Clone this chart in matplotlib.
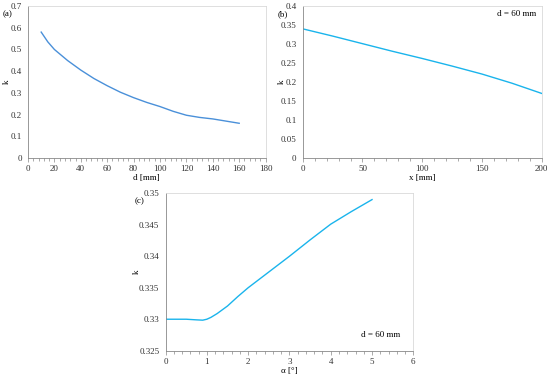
import numpy as np
import matplotlib.pyplot as plt
from matplotlib.ticker import MultipleLocator, AutoMinorLocator, FuncFormatter

plt.rcParams['font.family'] = ['Liberation Serif', 'DejaVu Serif']
plt.rcParams['font.size'] = 6.5

# (a) k vs d
d_mm = [10, 15, 20, 30, 40, 50, 60, 70, 80, 90, 100, 110, 120, 130, 140, 150, 160]
k_d = [0.58, 0.535, 0.50, 0.449, 0.405, 0.366, 0.333, 0.303, 0.278, 0.256, 0.237, 0.215, 0.197, 0.187, 0.180, 0.170, 0.160]

# (b) k vs x, d = 60 mm
x_mm = [0, 25, 50, 75, 100, 125, 150, 175, 200]
k_x = [0.340, 0.321, 0.301, 0.281, 0.262, 0.242, 0.221, 0.197, 0.170]

# (c) k vs alpha, d = 60 mm
alpha = [0, 0.5, 0.75, 0.9, 1.0, 1.1, 1.25, 1.5, 1.75, 2.0, 2.5, 3.0, 3.5, 4.0, 4.5, 5.0]
k_a = [0.330, 0.330, 0.3299, 0.32985, 0.3300, 0.3303, 0.3309, 0.3321, 0.3336, 0.3350, 0.3375, 0.3400, 0.3426, 0.3451, 0.3471, 0.3490]

fig = plt.figure(figsize=(5.5, 3.78), dpi=100)

trim = FuncFormatter(lambda v, p: ('%.3f' % v).rstrip('0').rstrip('.'))


def style(ax):
    for s in ['top', 'right']:
        ax.spines[s].set_color('#d9d9d9')
        ax.spines[s].set_linewidth(0.6)
    for s in ['left', 'bottom']:
        ax.spines[s].set_color('#888888')
        ax.spines[s].set_linewidth(0.6)
    ax.tick_params(which='both', direction='out', color='#888888', width=0.5, pad=2,
                   labelcolor='#333333')
    ax.tick_params(axis='y', which='major', length=0, pad=4.5)
    ax.tick_params(axis='x', which='major', length=3)
    ax.tick_params(axis='x', which='minor', length=2)
    ax.tick_params(top=False, right=False)
    ax.xaxis.set_minor_locator(AutoMinorLocator(5))
    ax.yaxis.set_major_formatter(trim)


ax1 = fig.add_axes([0.0509, 0.582, 0.432, 0.402])
ax1.plot(d_mm, k_d, color='#4a90d9', lw=1.0)
ax1.set_xlim(0, 180)
ax1.set_ylim(0, 0.7)
ax1.xaxis.set_major_locator(MultipleLocator(20))
ax1.yaxis.set_major_locator(MultipleLocator(0.1))
ax1.set_xlabel('d [mm]', labelpad=1)
ax1.set_ylabel('k')
ax1.yaxis.set_label_coords(-0.072, 0.5)
ax1.text(-0.105, 0.947, '(a)', transform=ax1.transAxes, ha='left', va='center')
style(ax1)

ax2 = fig.add_axes([0.5504, 0.582, 0.4345, 0.402])
ax2.plot(x_mm, k_x, color='#1ab4ec', lw=1.0)
ax2.set_xlim(0, 200)
ax2.set_ylim(0, 0.4)
ax2.xaxis.set_major_locator(MultipleLocator(50))
ax2.yaxis.set_major_locator(MultipleLocator(0.05))
ax2.set_xlabel('x [mm]', labelpad=1)
ax2.set_ylabel('k')
ax2.yaxis.set_label_coords(-0.071, 0.5)
ax2.text(-0.103, 0.947, '(b)', transform=ax2.transAxes, ha='left', va='center')
ax2.text(0.815, 0.947, 'd = 60 mm', transform=ax2.transAxes, ha='left', va='center')
style(ax2)

ax3 = fig.add_axes([0.301, 0.0722, 0.4505, 0.4164])
ax3.plot(alpha, k_a, color='#1ab4ec', lw=1.0)
ax3.set_xlim(0, 6)
ax3.set_ylim(0.325, 0.35)
ax3.xaxis.set_major_locator(MultipleLocator(1))
ax3.yaxis.set_major_locator(MultipleLocator(0.005))
ax3.set_xlabel('α [°]', labelpad=1)
ax3.set_ylabel('k')
ax3.yaxis.set_label_coords(-0.101, 0.5)
ax3.text(-0.125, 0.953, '(c)', transform=ax3.transAxes, ha='left', va='center')
ax3.text(0.79, 0.10, 'd = 60 mm', transform=ax3.transAxes, ha='left', va='center')
style(ax3)

fig.savefig('out.png', dpi=100)
